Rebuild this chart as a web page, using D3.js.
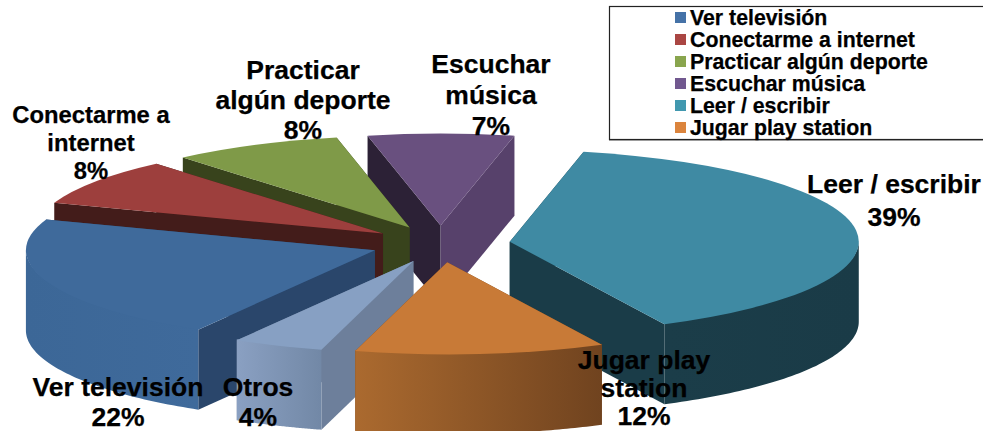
<!DOCTYPE html>
<html>
<head>
<meta charset="utf-8">
<script src="https://cdnjs.cloudflare.com/ajax/libs/d3/7.8.5/d3.min.js"></script>
<style>
  html, body { margin: 0; padding: 0; background: #fff; }
  svg { display: block; }
  text { font-family: "Liberation Sans", Arial, sans-serif; font-weight: bold; fill: #000; stroke: #000; stroke-width: 0.25px; }
</style>
</head>
<body>
<div id="chart"></div>
<script>
const categories = ["Ver televisión", "Conectarme a internet", "Practicar algún deporte", "Escuchar música", "Leer / escribir", "Jugar play station", "Otros"];
const values = [22, 8.3, 7.9, 6.75, 39.3, 11.55, 4.2];
const labelLines = [["Ver televisión"], ["Conectarme a", "internet"], ["Practicar", "algún deporte"], ["Escuchar", "música"], ["Leer / escribir"], ["Jugar play", "station"], ["Otros"]];
const legendCategories = categories.slice(0, 6);

// colours
const legendColors = ["#4572a7", "#aa4643", "#89a54e", "#71588f", "#4198af", "#db843d"];
const topColors = ["#3f6a9b", "#9d3f3d", "#7f9a48", "#69507f", "#3f8aa3", "#c87a37", "#87a0c3"];
const wallLeft = ["#3c6797", "#7c3331", "#5f7535", "#4f3c60", "#1b3d49", "#ab6a2f", "#8aa0c2"];
const wallRight = ["#3f6a9b", "#7c3331", "#5f7535", "#4f3c60", "#1a3b47", "#70431f", "#7288a6"];
const cutStart = ["#2a466b", "#431c1a", "#38431c", "#2c2136", "#1a3c48", "#70431f", "#6d7f9b"];
const cutEnd = ["#2a466b", "#431c1a", "#38431c", "#57416b", "#1a3c48", "#70431f", "#6d7f9b"];

// layout of the pie
const width = 983, height = 431;
const cx = 440.5, cy = 244, rx = 349, ry = 92, depth = 80, explode = 0.2;
const startDeg = 210.4;
const labelX = [118, 91, 303, 491, 894, 644, 258];
const labelY = [396, 123, 79, 73, 193, 369, 396];
const labelStep = [30, 28, 30, 31, 33, 28, 30];
const labelSize = [26.5, 23.8, 26.5, 26.5, 26.5, 26.5, 26.5];

const svg = d3.select("#chart").append("svg")
    .attr("width", width)
    .attr("height", height);
const defs = svg.append("defs");

const toRad = Math.PI / 180;
const pie = d3.pie().sort(null).value(d => d)
    .startAngle(startDeg * toRad)
    .endAngle((startDeg + 360) * toRad);
const arcs = pie(values).map((d, i) => {
    const mid = (d.startAngle + d.endAngle) / 2;
    return {
        i,
        startAngle: d.startAngle,
        endAngle: d.endAngle,
        mid,
        ax: cx + explode * rx * Math.sin(mid),
        ay: cy - explode * ry * Math.cos(mid)
    };
});

const topArc = d3.arc().innerRadius(0).outerRadius(rx);

// back slices first
const ordered = arcs.slice().sort((a, b) => Math.cos(b.mid) - Math.cos(a.mid));

const face = (pts) => d3.line()(pts) + "Z";

ordered.forEach(a => {
    const g = svg.append("g");
    const edge = (t) => [a.ax + rx * Math.sin(t), a.ay - ry * Math.cos(t)];

    // the two cut faces, the nearer one last
    const cuts = [
        { t: a.startAngle, color: cutStart[a.i] },
        { t: a.endAngle, color: cutEnd[a.i] }
    ].sort((p, q) => Math.cos(q.t) - Math.cos(p.t));
    cuts.forEach(c => {
        const p = edge(c.t);
        g.append("path")
            .attr("d", face([[a.ax, a.ay], p, [p[0], p[1] + depth], [a.ax, a.ay + depth]]))
            .attr("fill", c.color);
    });

    // outer wall, only the part that faces us (angle between 90 and 270 deg)
    const visible = [];
    [0, 360].forEach(turn => {
        const lo = Math.max(a.startAngle, (90 + turn) * toRad);
        const hi = Math.min(a.endAngle, (270 + turn) * toRad);
        if (hi > lo) visible.push([lo, hi]);
    });
    visible.forEach(([lo, hi], k) => {
        const ts = d3.range(0, 61).map(n => lo + (hi - lo) * n / 60);
        const id = `wall${a.i}_${k}`;
        const xs = ts.map(t => edge(t)[0]);
        const grad = defs.append("linearGradient")
            .attr("id", id)
            .attr("gradientUnits", "userSpaceOnUse")
            .attr("x1", d3.min(xs)).attr("x2", d3.max(xs))
            .attr("y1", 0).attr("y2", 0);
        grad.append("stop").attr("offset", 0).attr("stop-color", wallLeft[a.i]);
        grad.append("stop").attr("offset", 1).attr("stop-color", wallRight[a.i]);
        // starts 1px higher so no white seam shows under the top
        g.append("path")
            .attr("d", d3.area()
                .x(t => edge(t)[0])
                .y0(t => edge(t)[1] - 1)
                .y1(t => edge(t)[1] + depth)(ts))
            .attr("fill", `url(#${id})`);
    });

    // top of the slice, a circle arc squashed to an ellipse
    g.append("path")
        .attr("transform", `translate(${a.ax},${a.ay}) scale(1,${ry / rx})`)
        .attr("d", topArc({ startAngle: a.startAngle, endAngle: a.endAngle }))
        .attr("fill", topColors[a.i]);
});

// data labels
labelLines.forEach((lines, i) => {
    const t = svg.append("text")
        .attr("text-anchor", "middle")
        .style("font-size", labelSize[i] + "px");
    lines.concat([Math.round(values[i]) + "%"]).forEach((line, k) => {
        t.append("tspan")
            .attr("x", labelX[i])
            .attr("y", labelY[i] + k * labelStep[i])
            .text(line);
    });
});

// legend box, runs off the right edge
const legendY = d3.scalePoint()
    .domain(legendCategories)
    .range([18, 128]);

svg.append("line")
    .attr("x1", 609).attr("x2", width)
    .attr("y1", 140.5).attr("y2", 140.5)
    .attr("stroke", "#aaa");

svg.append("rect")
    .attr("x", 609.5).attr("y", 6.5)
    .attr("width", 500).attr("height", 133)
    .attr("fill", "#fff")
    .attr("stroke", "#222")
    .attr("stroke-width", 1.2);

const legend = svg.selectAll(".legend")
    .data(legendCategories)
    .enter().append("g")
    .attr("class", "legend")
    .attr("transform", d => `translate(675,${legendY(d)})`);

legend.append("rect")
    .attr("y", -6)
    .attr("width", 11)
    .attr("height", 11)
    .attr("fill", (d, i) => legendColors[i]);

legend.append("text")
    .attr("x", 15)
    .attr("y", 7)
    .style("font-size", "21.3px")
    .text(d => d);
</script>
</body>
</html>
